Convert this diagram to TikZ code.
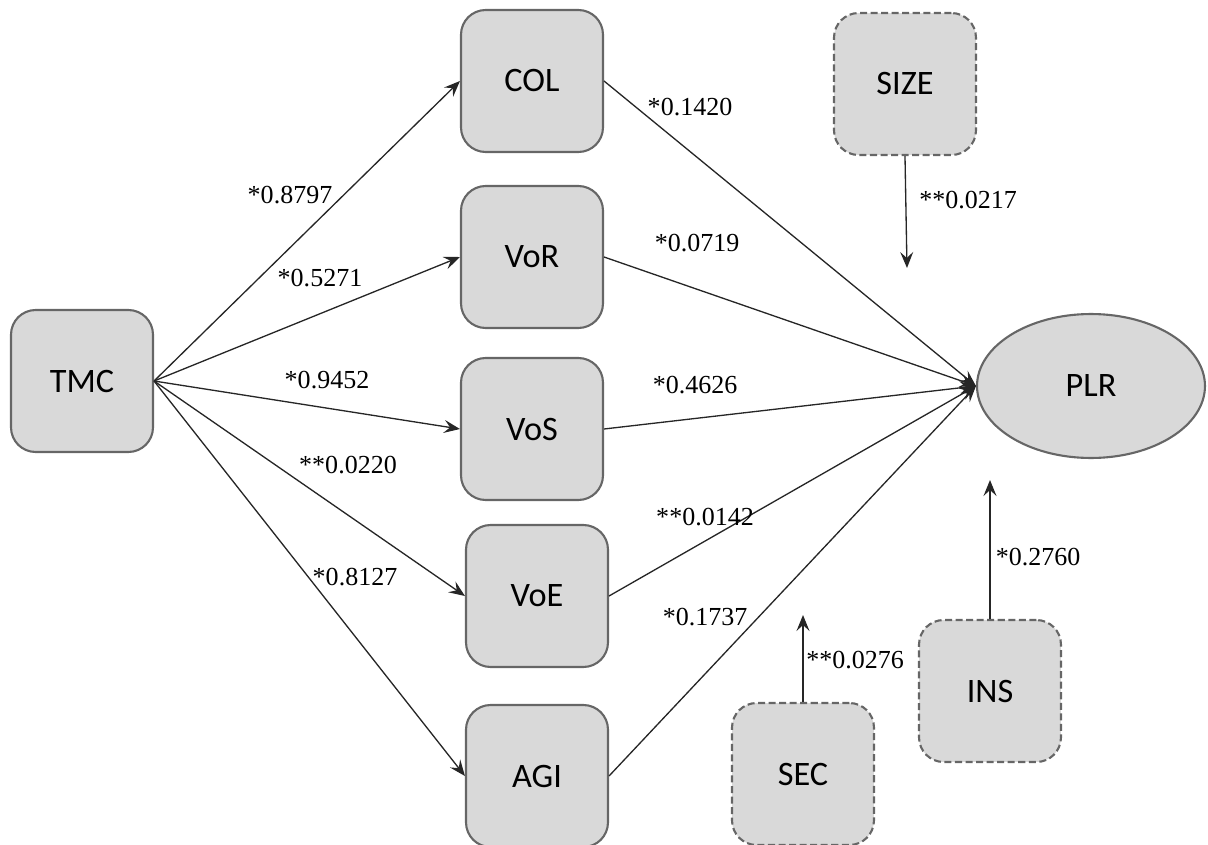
\documentclass[tikz,border=0pt]{standalone}
\usepackage{fontspec}
\setmainfont{Liberation Serif}
\setsansfont{Carlito}
\usetikzlibrary{arrows.meta, shapes.geometric}
\definecolor{cfill}{HTML}{D9D9D9}
\definecolor{cedge}{HTML}{666666}
\tikzset{
  every picture/.style={line width=0.75pt},
  box/.style={draw=cedge, fill=cfill, line width=1.2pt, rounded corners=14pt, minimum width=2.84cm, minimum height=2.84cm, font=\sffamily\fontsize{19.5}{22}\selectfont},
  ctrl/.style={box, dashed, dash pattern=on 4pt off 2pt},
  oval/.style={draw=cedge, fill=cfill, line width=1.2pt, ellipse, minimum width=4.56cm, minimum height=2.88cm, font=\sffamily\fontsize{19.5}{22}\selectfont},
  arrow/.style={-{Stealth[length=3.2mm, width=2.6mm, inset=1.2mm]}, draw=black!85},
  coef/.style={font=\fontsize{14.8}{17}\selectfont, inner sep=1pt},
}
\begin{document}
\begin{tikzpicture}[x=0.02cm, y=-0.02cm]
  \useasboundingbox (0,0) rectangle (1208,845);
  % variables
  \node[box] (TMC) at (82,381) {TMC};
  \node[box] (COL) at (532,81) {COL};
  \node[box] (VoR) at (532,257) {VoR};
  \node[box] (VoS) at (532,429) {VoS};
  \node[box] (VoE) at (537,596) {VoE};
  \node[box] (AGI) at (537,776) {AGI};
  \node[oval] (PLR) at (1091,386) {PLR};
  % controls
  \node[ctrl] (SIZE) at (905,84) {SIZE};
  \node[ctrl] (SEC) at (803,774) {SEC};
  \node[ctrl] (INS) at (990,691) {INS};
  \coordinate (sizeTip) at (907,268);
  \coordinate (secTip) at (803,615);
  \coordinate (insTip) at (990,480);
  % paths
  \foreach \m in {COL, VoR, VoS, VoE, AGI} {
    \draw[arrow] (TMC.east) -- (\m.west);
    \draw[arrow] (\m.east) -- (PLR.west);
  }
  \draw[arrow] (SIZE.south) -- (sizeTip);
  \draw[arrow] (SEC.north) -- (secTip);
  \draw[arrow] (INS.north) -- (insTip);
  % coefficients
  \node[coef] (cCOL) at (290,195) {*0.8797};
  \node[coef] (cVoR) at (320,278) {*0.5271};
  \node[coef] (cVoS) at (327,380) {*0.9452};
  \node[coef] (cVoE) at (348,465) {**0.0220};
  \node[coef] (cAGI) at (355,577) {*0.8127};
  \node[coef] (pCOL) at (690,107) {*0.1420};
  \node[coef] (pVoR) at (697,243) {*0.0719};
  \node[coef] (pVoS) at (695,385) {*0.4626};
  \node[coef] (pVoE) at (705,517) {**0.0142};
  \node[coef] (pAGI) at (705,617) {*0.1737};
  \node[coef] (cSIZE) at (968,200) {**0.0217};
  \node[coef] (cSEC) at (855,660) {**0.0276};
  \node[coef] (cINS) at (1038,557) {*0.2760};
\end{tikzpicture}
\end{document}
